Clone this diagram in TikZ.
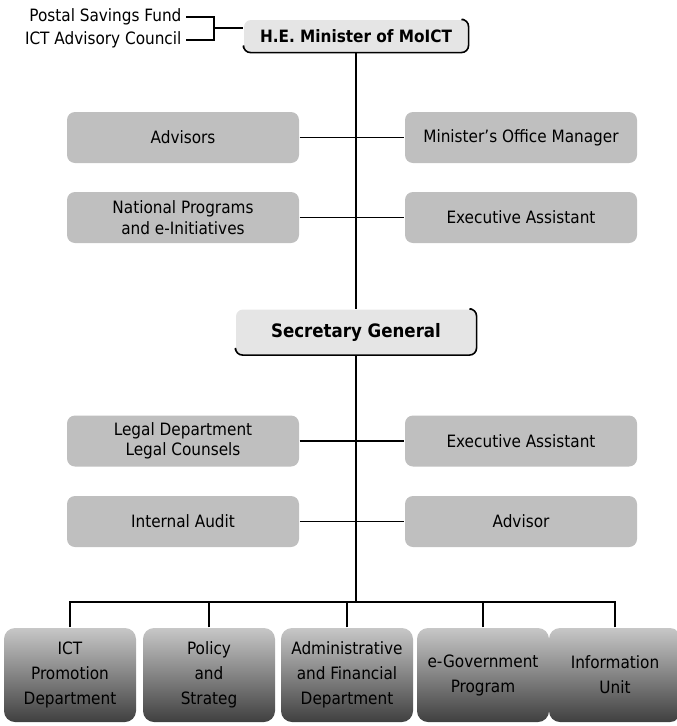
\documentclass[tikz,border=0pt]{standalone}
\usepackage{fontspec}
\setmainfont{DejaVu Sans Condensed}
\usepackage{tikz}
\usetikzlibrary{calc}
\newcommand{\drawheadbox}[4]{
	\draw #1 node (#2) [headbox,#3] {#4};
	\draw [line width=1.6pt,rounded corners=7pt] ([xshift=-5pt]#2.north east) -- (#2.north east) -- (#2.south east) -- (#2.south west) -- ([yshift=5pt]#2.south west);
}

\begin{document}
\begin{tikzpicture}[x=1pt,y=-1pt,line width=1.1pt,
	headbox/.style={shape=rectangle,rounded corners=7pt,fill=black!10,align=center,font=\fontsize{17}{20.5}\selectfont\bfseries},
	sidebox/.style={shape=rectangle,rounded corners=8pt,fill=black!25,minimum width=232pt,minimum height=51pt,align=center,inner sep=2pt,font=\fontsize{17}{20.5}\selectfont},
	unitbox/.style={shape=rectangle,rounded corners=11pt,top color=black!22,middle color=black!40,bottom color=black!75,minimum width=132pt,minimum height=94pt,align=center,inner sep=1pt,font=\fontsize{17}{25}\selectfont},
	note/.style={anchor=east,inner sep=4pt,font=\fontsize{17}{20.5}\selectfont}]
	\useasboundingbox (0,0) rectangle (677,726);
	% minister and its councils
	\drawheadbox{(356,36)}{minister}{minimum width=224pt,minimum height=32pt}{H.E. Minister of MoICT}
	\node (postal) [note] at (186,17) {Postal Savings Fund};
	\node (ict) [note] at (186,40) {ICT Advisory Council};
	\coordinate (brk) at (214,28);
	\draw (postal.east) -| (brk) |- (ict.east);
	\draw (brk) -- (brk -| minister.west);
	% minister's staff
	\node (adv) [sidebox] at (183,137.5) {Advisors};
	\node (mgr) [sidebox] at (521,137.5) {Minister's Office Manager};
	\node (nat) [sidebox] at (183,217.5) {National Programs\\and e-Initiatives};
	\node (exa) [sidebox] at (521,217.5) {Executive Assistant};
	\draw (adv) -- (mgr) (nat) -- (exa);
	% secretary general
	\drawheadbox{(356,332)}{secgen}{minimum width=240pt,minimum height=45pt,font=\fontsize{18.5}{22}\selectfont\bfseries}{Secretary General}
	\draw (minister.south) -- (secgen.north);
	\node (legal) [sidebox] at (183,441) {Legal Department\\Legal Counsels};
	\node (exb) [sidebox] at (521,441) {Executive Assistant};
	\node (audit) [sidebox] at (183,521.5) {Internal Audit};
	\node (advr) [sidebox] at (521,521.5) {Advisor};
	\draw (legal) -- (exb) (audit) -- (advr);
	% units
	\coordinate (bus) at (356,602);
	\draw (secgen.south) -- (bus);
	\foreach \x/\name/\txt in {70/promo/{ICT\\Promotion\\Department},209/policy/{Policy\\and\\Strateg},347/admin/{Administrative\\and Financial\\Department},483/egov/{e-Government\\Program},615/info/{Information\\Unit}} {
		\draw (\x,675) node (\name) [unitbox] {\txt};
		\draw (\name.north) |- (bus);
	}
\end{tikzpicture}
\end{document}
